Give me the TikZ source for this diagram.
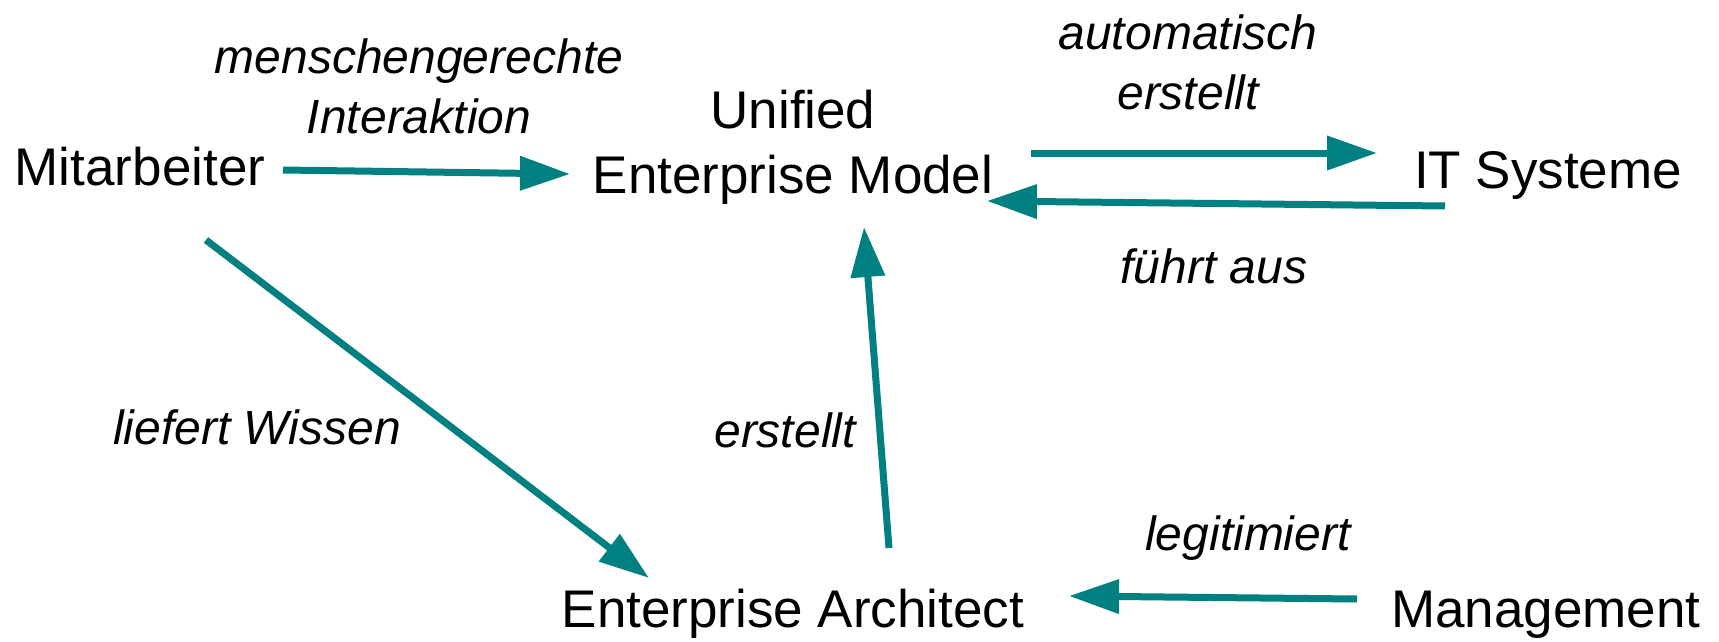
\documentclass[tikz,border=0pt]{standalone}
\usepackage{fontspec}
\setmainfont{Liberation Sans}
\usetikzlibrary{arrows.meta}
\definecolor{flowteal}{RGB}{0,128,128}
\begin{document}
\begin{tikzpicture}[x=1pt,y=-1pt,
  entity/.style={font=\fontsize{53}{65}\selectfont, inner sep=0pt, anchor=base, align=center},
  relation/.style={font=\fontsize{48}{60}\selectfont\itshape, inner sep=0pt, anchor=base, align=center},
  flow/.style={draw=flowteal, line width=7pt, -{Triangle[length=50pt,width=33pt]}}]
\useasboundingbox (0,0) rectangle (1719,642);

% actors and systems (base = baseline of the last line)
\node[entity] (mit)  at (140,185)  {Mitarbeiter};
\node[entity] (uem)  at (793,193)  {Unified\\Enterprise Model};
\node[entity] (its)  at (1548,188) {IT Systeme};
\node[entity] (ea)   at (793,627)  {Enterprise Architect};
\node[entity] (mgmt) at (1546,627) {Management};

% relation labels
\node[relation] (lint)  at (419,133)  {menschengerechte\\Interaktion};
\node[relation] (lauto) at (1188,109) {automatisch\\erstellt};
\node[relation] (lexec) at (1214,283) {führt aus};
\node[relation] (lwiss) at (257,444)  {liefert Wissen};
\node[relation] (lerst) at (785,447)  {erstellt};
\node[relation] (llegi) at (1248,550) {legitimiert};

% relations
\draw[flow] ([shift={(143,-15)}]mit.base) -- ([shift={(-223,-19)}]uem.base);
\draw[flow] ([shift={(238,-40)}]uem.base) -- ([shift={(-171,-35)}]its.base);
\draw[flow] ([shift={(-103,18)}]its.base) -- ([shift={(194,8)}]uem.base);
\draw[flow] ([shift={(66,55)}]mit.base) -- ([shift={(-144,-49)}]ea.base);
\draw[flow] ([shift={(96,-79)}]ea.base) -- ([shift={(71,34)}]uem.base);
\draw[flow] ([shift={(-189,-28)}]mgmt.base) -- ([shift={(276,-31)}]ea.base);
\end{tikzpicture}
\end{document}
